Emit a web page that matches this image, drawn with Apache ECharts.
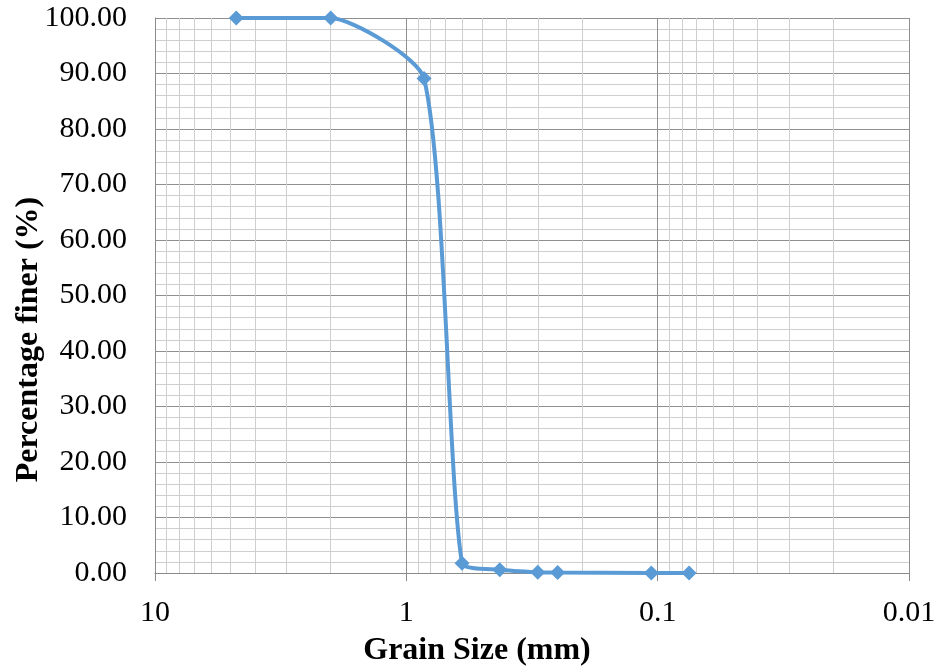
<!DOCTYPE html>
<html>
<head>
<meta charset="utf-8">
<script src="https://cdn.jsdelivr.net/npm/echarts@6/dist/echarts.min.js"></script>
<style>
  html, body { margin: 0; padding: 0; background: #fff; }
  #chart { width: 938px; height: 668px; }
</style>
</head>
<body>
<div id="chart"></div>
<script>
// Sieve analysis: grain size (mm) vs. percentage finer (%)
const grainSizes = [4.75, 2.0, 0.85, 0.6, 0.425, 0.3, 0.25, 0.106, 0.075];
const percentFiner = [100.0, 100.0, 89.1, 1.75, 0.6, 0.15, 0.08, 0.02, 0.0];

// Decade tick labels on the reversed log axis
const xTickLabels = { 10: '10', 1: '1', 0.1: '0.1', 0.01: '0.01' };
// Minor (2..9 per decade) grid positions
const minorGridX = [
  9, 8, 7, 6, 5, 4, 3, 2,
  0.9, 0.8, 0.7, 0.6, 0.5, 0.4, 0.3, 0.2,
  0.09, 0.08, 0.07, 0.06, 0.05, 0.04, 0.03, 0.02
];

const serif = '"Liberation Serif", "Times New Roman", serif';
const chart = echarts.init(document.getElementById('chart'));

chart.setOption({
  animation: false,
  grid: { left: 155, right: 29, top: 18, bottom: 95, outerBoundsMode: 'none', containLabel: false },
  xAxis: {
    type: 'log',
    logBase: 10,
    min: 0.01,
    max: 10,
    inverse: true,
    name: 'Grain Size (mm)',
    nameLocation: 'middle',
    nameGap: 62,
    nameMoveOverlap: false,
    nameTextStyle: {
      fontFamily: serif, fontWeight: 'bold', fontSize: 32, color: '#000',
      padding: [0, 110, 0, 0]
    },
    axisLine: { show: true, lineStyle: { color: '#8a8a8a', width: 1 } },
    axisTick: { show: true, inside: false, length: 8, lineStyle: { color: '#8a8a8a' } },
    axisLabel: {
      fontFamily: serif, fontSize: 30, color: '#000', margin: 25,
      formatter: function (v) {
        const k = Object.keys(xTickLabels).find(key => Math.abs(Math.log10(+key) - Math.log10(v)) < 1e-6);
        return k !== undefined ? xTickLabels[k] : '';
      }
    },
    splitLine: { show: true, lineStyle: { color: '#8f8f8f', width: 1 } }
  },
  yAxis: {
    type: 'value',
    min: 0,
    max: 100,
    interval: 10,
    name: 'Percentage finer (%)',
    nameLocation: 'middle',
    nameGap: 110,
    nameMoveOverlap: false,
    nameTextStyle: {
      fontFamily: serif, fontWeight: 'bold', fontSize: 32, color: '#000',
      padding: [0, 88, 0, 0]
    },
    axisLine: { show: true, lineStyle: { color: '#8a8a8a', width: 1 } },
    axisTick: { show: false },
    axisLabel: {
      fontFamily: serif, fontSize: 30, color: '#000', margin: 28,
      formatter: v => v.toFixed(2)
    },
    splitLine: { show: true, lineStyle: { color: '#8f8f8f', width: 1 } },
    minorTick: { show: false, splitNumber: 5 },
    minorSplitLine: { show: true, lineStyle: { color: '#cfcfcf', width: 1 } }
  },
  series: [
    {
      // minor vertical grid lines
      type: 'line',
      data: [],
      z: 1,
      silent: true,
      markLine: {
        silent: true,
        symbol: 'none',
        label: { show: false },
        lineStyle: { color: '#cfcfcf', width: 1, type: 'solid' },
        data: minorGridX.map(v => ({ xAxis: v }))
      }
    },
    {
      type: 'line',
      z: 5,
      data: grainSizes.map((g, i) => [g, percentFiner[i]]),
      smooth: 0.2,
      symbol: 'diamond',
      symbolSize: 15,
      lineStyle: { color: '#5b9bd5', width: 4 },
      itemStyle: { color: '#5b9bd5' }
    }
  ]
});
</script>
</body>
</html>
